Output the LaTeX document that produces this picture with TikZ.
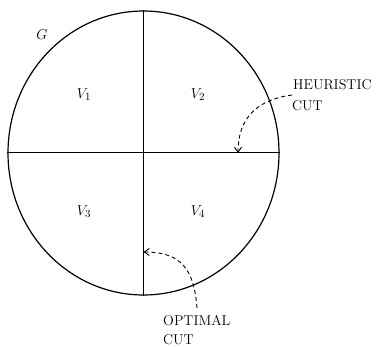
\documentclass[tikz,border=0pt]{standalone}
\usetikzlibrary{shapes.geometric,arrows.meta}
\begin{document}
\begin{tikzpicture}[x=1pt,y=-1pt,
  lbl/.style={font=\fontsize{15}{17}\selectfont, inner sep=0pt},
  txt/.style={font=\fontsize{14.2}{16}\selectfont, inner sep=0pt, anchor=base west},
  cutline/.style={line width=1pt},
  dasharrow/.style={line width=0.9pt, dash pattern=on 4pt off 3pt, -{Straight Barb[length=5pt,width=7pt]}}]
\useasboundingbox (0,0) rectangle (377,347);
\node[ellipse, draw, line width=1.2pt, minimum width=271pt, minimum height=284pt, inner sep=0pt] (G) at (143.5,153) {};
\draw[cutline] (G.west) -- (G.east);
\draw[cutline] (G.north) -- (G.south);
\node[lbl] (gl) at (42,35) {$G$};
\node[lbl] (v1) at (84,95) {$V_1$};
\node[lbl] (v2) at (198,95) {$V_2$};
\node[lbl] (v3) at (84,212) {$V_3$};
\node[lbl] (v4) at (198,212) {$V_4$};
\node[txt] (h1) at (293,90) {HEURISTIC};
\node[txt] (h2) at (292,111) {CUT};
\node[txt] (o1) at (163,325) {OPTIMAL};
\node[txt] (o2) at (163,344) {CUT};
\coordinate (hs) at (292,95);
\coordinate (ht) at (238,153);
\coordinate (os) at (197,308);
\coordinate (ot) at (143.5,252);
\draw[dasharrow] (hs) .. controls (255,100) and (238,120) .. (ht);
\draw[dasharrow] (os) .. controls (194,270) and (182,252) .. (ot);
\end{tikzpicture}
\end{document}
